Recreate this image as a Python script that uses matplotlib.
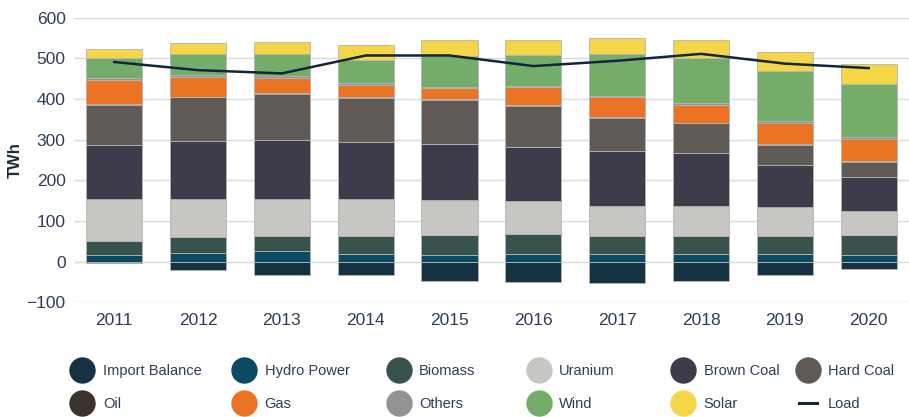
import numpy as np
import matplotlib
matplotlib.use("Agg")
import matplotlib.pyplot as plt
from matplotlib.lines import Line2D

plt.rcParams["font.family"] = ["Liberation Sans", "DejaVu Sans"]

# ── Data (TWh) ────────────────────────────────────────────
years = ["2011", "2012", "2013", "2014", "2015", "2016", "2017", "2018", "2019", "2020"]

import_balance = [-4, -21, -32, -34, -48, -50, -52, -48, -32, -19]
hydro   = [16, 21, 25, 20, 16, 19, 20, 20, 20, 17]
biomass = [35, 39, 39, 43, 49, 48, 44, 44, 44, 48]
uranium = [103, 95, 91, 90, 86, 81, 74, 74, 71, 60]
brown_coal = [134, 141, 144, 141, 139, 135, 133, 130, 102, 83]
hard_coal  = [97, 108, 114, 108, 107, 100, 83, 72, 50, 38]
oil     = [2, 2, 2, 2, 2, 2, 2, 2, 2, 2]
gas     = [60, 48, 37, 30, 27, 44, 48, 44, 52, 54]
others  = [5, 5, 5, 6, 4, 4, 4, 4, 4, 4]
wind    = [50, 52, 53, 57, 76, 74, 102, 110, 123, 131]
solar   = [20, 26, 30, 37, 39, 39, 39, 46, 47, 50]
load    = [491, 471, 463, 507, 507, 481, 494, 511, 487, 476]

series = [
    ("Hydro Power", hydro,      "#0b4a63"),
    ("Biomass",     biomass,    "#38524d"),
    ("Uranium",     uranium,    "#c8c6c2"),
    ("Brown Coal",  brown_coal, "#3e3b4a"),
    ("Hard Coal",   hard_coal,  "#5f5a55"),
    ("Oil",         oil,        "#3b342c"),
    ("Gas",         gas,        "#ea7424"),
    ("Others",      others,     "#949391"),
    ("Wind",        wind,       "#74ad69"),
    ("Solar",       solar,      "#f5d649"),
]
IMPORT_COLOR = "#163142"
LOAD_COLOR = "#13253a"
TEXT_COLOR = "#2e3d52"

# ── Figure ────────────────────────────────────────────────
fig = plt.figure(figsize=(9.09, 4.17), dpi=100)
ax = fig.add_axes([0.0814, 0.275, 0.9186, 0.6826])

x = np.arange(len(years))
width = 0.67
edge = dict(edgecolor="#b4b4b4", linewidth=0.6, zorder=3)

ax.bar(x, import_balance, width, color=IMPORT_COLOR, **edge)
bottom = np.zeros(len(years))
for name, vals, col in series:
    ax.bar(x, vals, width, bottom=bottom, color=col, **edge)
    bottom += np.array(vals)

ax.plot(x, load, color=LOAD_COLOR, linewidth=1.8, zorder=5)

ax.set_xlim(-0.48, len(years) - 0.52)
ax.set_ylim(-100, 600)
ax.set_yticks(np.arange(-100, 601, 100))
ax.set_xticks(x)
ax.set_xticklabels(years)
ax.yaxis.grid(True, color="#dadada", linewidth=1.0, zorder=0)
ax.set_axisbelow(True)
for s in ax.spines.values():
    s.set_visible(False)
ax.tick_params(axis="both", length=0, labelsize=12.5, colors=TEXT_COLOR)
ax.tick_params(axis="y", pad=6)
ax.tick_params(axis="x", pad=8)
ax.set_ylabel("TWh", fontsize=12, fontweight="bold", color="#1f2a3a")
ax.yaxis.set_label_coords(-0.061, 0.5)

# ── Legend: six 2-row columns ─────────────────────────────
def dot(color):
    return Line2D([], [], marker="o", linestyle="none", markersize=18,
                  markerfacecolor=color, markeredgecolor=color)

colors = {n: c for n, _, c in series}
columns = [
    (["Import Balance", "Oil"], [dot(IMPORT_COLOR), dot(colors["Oil"])], 0.081),
    (["Hydro Power", "Gas"], [dot(colors["Hydro Power"]), dot(colors["Gas"])], 0.259),
    (["Biomass", "Others"], [dot(colors["Biomass"]), dot(colors["Others"])], 0.429),
    (["Uranium", "Wind"], [dot(colors["Uranium"]), dot(colors["Wind"])], 0.583),
    (["Brown Coal", "Solar"], [dot(colors["Brown Coal"]), dot(colors["Solar"])], 0.742),
    (["Hard Coal", "Load"], [dot(colors["Hard Coal"]),
                             Line2D([], [], color=LOAD_COLOR, linewidth=2.2)], 0.879),
]
for labels, handles, xpos in columns:
    leg = fig.legend(handles, labels, loc="upper left", bbox_to_anchor=(xpos, 0.127),
                     frameon=False, ncol=1, fontsize=10.5, handlelength=1.2,
                     handletextpad=0.8, labelspacing=1.33, borderaxespad=0,
                     borderpad=0, labelcolor=TEXT_COLOR)

fig.savefig("out.png", dpi=100)
